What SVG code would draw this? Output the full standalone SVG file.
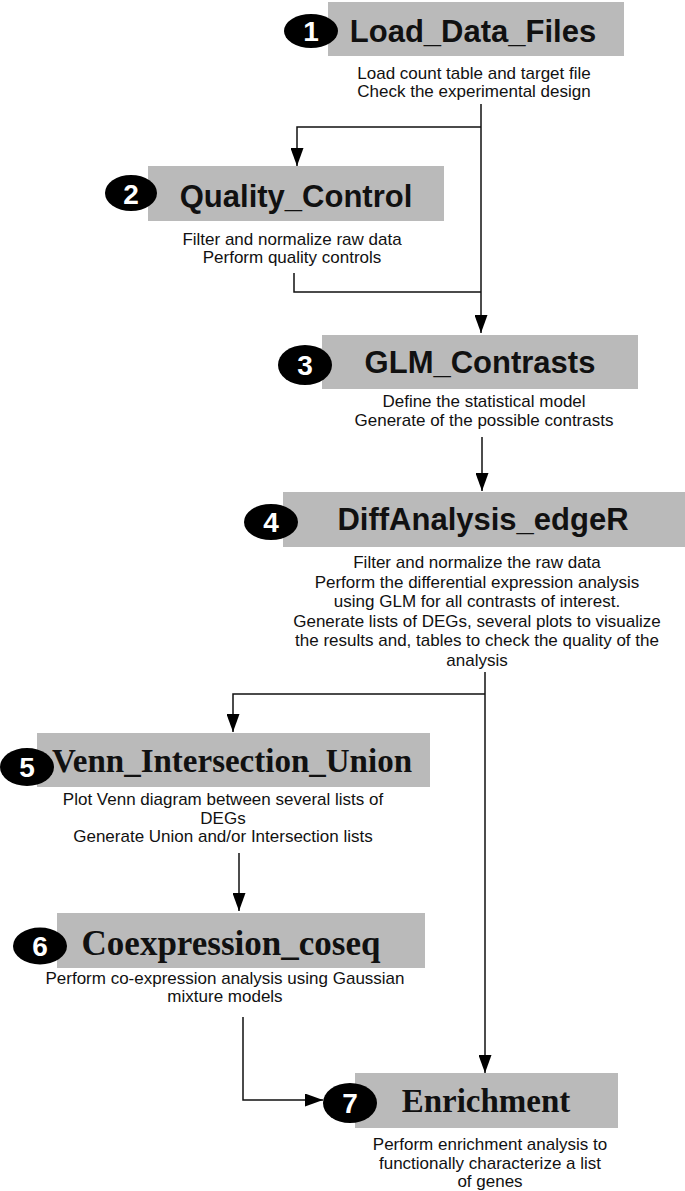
<svg xmlns="http://www.w3.org/2000/svg" width="685" height="1191" viewBox="0 0 685 1191">
<style>
.box{fill:#bababa}
.badge{fill:#000}
.num{font-family:"Liberation Sans",Arial,sans-serif;font-weight:bold;font-size:28px;fill:#fff;text-anchor:middle}
.t1{font-family:"Liberation Sans",Arial,sans-serif;font-weight:bold;font-size:31px;fill:#111;text-anchor:middle}
.t2{font-family:"Liberation Serif","Times New Roman",serif;font-weight:bold;font-size:33px;fill:#111;text-anchor:middle}
.d{font-family:"Liberation Sans",Arial,sans-serif;font-size:17px;fill:#111;text-anchor:middle}
.c{fill:none;stroke:#111;stroke-width:1.5}
</style>
<defs>
<marker id="ah" markerUnits="userSpaceOnUse" markerWidth="18" markerHeight="13" refX="18" refY="6.5" orient="auto">
<path d="M0,0 L18,6.5 L0,13 Z" fill="#000"/>
</marker>
</defs>
<rect width="685" height="1191" fill="#fff"/>
<g id="connectors">
<path class="c" d="M481,104 V333" marker-end="url(#ah)"/>
<path class="c" d="M481,127 H297 V166" marker-end="url(#ah)"/>
<path class="c" d="M294,273 V292 H481"/>
<path class="c" d="M482,437 V491" marker-end="url(#ah)"/>
<path class="c" d="M485,672 V1073" marker-end="url(#ah)"/>
<path class="c" d="M485,694 H233 V732" marker-end="url(#ah)"/>
<path class="c" d="M239,853 V911" marker-end="url(#ah)"/>
<path class="c" d="M243,1017 V1100 H323" marker-end="url(#ah)"/>
</g>
<g id="node1">
<rect class="box" x="328" y="2" width="296" height="54"/>
<ellipse class="badge" cx="311" cy="31" rx="27" ry="17"/>
<text class="num" x="311" y="41">1</text>
<text class="t1" x="473" y="42">Load_Data_Files</text>
<text class="d" x="474" y="79">Load count table and target file</text>
<text class="d" x="474" y="97">Check the experimental design</text>
</g>
<g id="node2">
<rect class="box" x="148" y="166" width="296" height="55"/>
<ellipse class="badge" cx="131" cy="193" rx="26" ry="18"/>
<text class="num" x="131" y="204">2</text>
<text class="t1" x="296" y="207">Quality_Control</text>
<text class="d" x="292" y="245">Filter and normalize raw data</text>
<text class="d" x="292" y="262.5">Perform quality controls</text>
</g>
<g id="node3">
<rect class="box" x="322" y="335" width="316" height="54"/>
<ellipse class="badge" cx="305" cy="365" rx="27" ry="20"/>
<text class="num" x="305" y="375">3</text>
<text class="t1" x="480" y="373">GLM_Contrasts</text>
<text class="d" x="484" y="407">Define the statistical model</text>
<text class="d" x="484" y="426">Generate of the possible contrasts</text>
</g>
<g id="node4">
<rect class="box" x="283" y="492" width="402" height="55"/>
<ellipse class="badge" cx="271" cy="522" rx="27" ry="18"/>
<text class="num" x="271" y="532">4</text>
<text class="t1" x="483" y="530">DiffAnalysis_edgeR</text>
<text class="d" x="477" y="568">Filter and normalize the raw data</text>
<text class="d" x="477" y="587.5">Perform the differential expression analysis</text>
<text class="d" x="477" y="607">using GLM for all contrasts of interest.</text>
<text class="d" x="477" y="626.5">Generate lists of DEGs, several plots to visualize</text>
<text class="d" x="477" y="646">the results and, tables to check the quality of the</text>
<text class="d" x="477" y="665.5">analysis</text>
</g>
<g id="node5">
<rect class="box" x="37" y="733" width="393" height="54"/>
<ellipse class="badge" cx="27" cy="767" rx="27" ry="19"/>
<text class="num" x="27" y="777">5</text>
<text class="t2" x="232" y="772">Venn_Intersection_Union</text>
<text class="d" x="223" y="805">Plot Venn diagram between several lists of</text>
<text class="d" x="223" y="823.5">DEGs</text>
<text class="d" x="223" y="842">Generate Union and/or Intersection lists</text>
</g>
<g id="node6">
<rect class="box" x="57" y="913" width="368" height="55"/>
<ellipse class="badge" cx="40" cy="946" rx="27" ry="18.5"/>
<text class="num" x="40" y="956">6</text>
<text class="t2" x="231" y="955" style="font-size:35px">Coexpression_coseq</text>
<text class="d" x="225" y="984">Perform co-expression analysis using Gaussian</text>
<text class="d" x="225" y="1001.5">mixture models</text>
</g>
<g id="node7">
<rect class="box" x="355" y="1073" width="263" height="55"/>
<ellipse class="badge" cx="350" cy="1103" rx="27" ry="20"/>
<text class="num" x="350" y="1113">7</text>
<text class="t2" x="486" y="1112">Enrichment</text>
<text class="d" x="490" y="1150">Perform enrichment analysis to</text>
<text class="d" x="490" y="1168.5">functionally characterize a list</text>
<text class="d" x="490" y="1187">of genes</text>
</g>
</svg>
